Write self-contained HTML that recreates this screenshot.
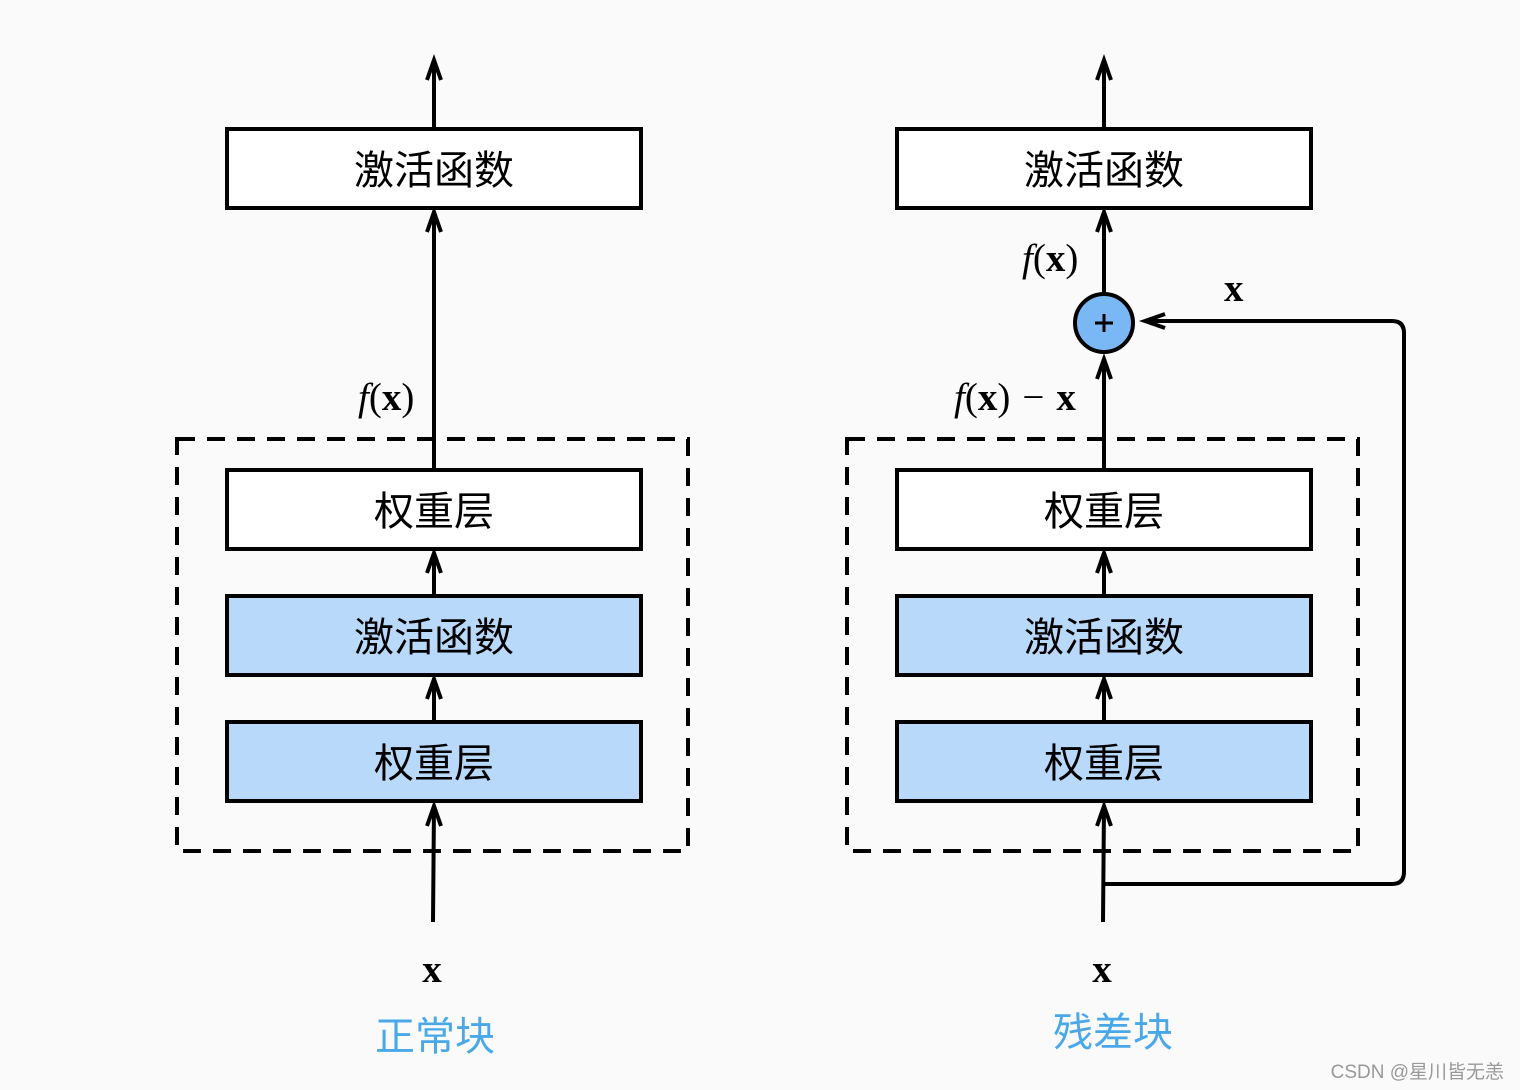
<!DOCTYPE html>
<html><head><meta charset="utf-8"><style>
html,body{margin:0;padding:0;background:#fafafa;}
svg{display:block}
.cjk{font-family:"Liberation Sans","Noto Sans CJK SC",sans-serif;font-size:40px;}
.m{font-family:"Liberation Serif",serif;font-size:39px;}
</style></head><body>
<svg width="1520" height="1090" viewBox="0 0 1520 1090" xmlns="http://www.w3.org/2000/svg">
<rect width="1520" height="1090" fill="#fafafa"/>
<defs>
<g id="blk">
  <rect x="177" y="439" width="511" height="412" fill="none" stroke="#000" stroke-width="4" stroke-dasharray="18,12"/>
  <rect x="227" y="129" width="414" height="79" fill="#fff" stroke="#000" stroke-width="4"/>
  <rect x="227" y="470" width="414" height="79" fill="#fff" stroke="#000" stroke-width="4"/>
  <rect x="227" y="596" width="414" height="79" fill="#b9d9fb" stroke="#000" stroke-width="4"/>
  <rect x="227" y="722" width="414" height="79" fill="#b9d9fb" stroke="#000" stroke-width="4"/>
  <text class="cjk" x="434" y="184" text-anchor="middle">激活函数</text>
  <text class="cjk" x="434" y="525" text-anchor="middle">权重层</text>
  <text class="cjk" x="434" y="651" text-anchor="middle">激活函数</text>
  <text class="cjk" x="434" y="777" text-anchor="middle">权重层</text>
  <g stroke="#000" stroke-width="4" fill="none">
    <line x1="434" y1="127" x2="434" y2="60"/><polyline points="427,80 434,60 441,80"/>
    <line x1="434" y1="596" x2="434" y2="553"/><polyline points="427,573 434,553 441,573"/>
    <line x1="434" y1="722" x2="434" y2="679"/><polyline points="427,699 434,679 441,699"/>
    <line x1="433" y1="922" x2="434" y2="806"/><polyline points="427,826 434,806 441,826"/>
  </g>
  <text class="m" x="432" y="982" text-anchor="middle" font-weight="bold">x</text>
</g>
</defs>
<use href="#blk"/>
<g stroke="#000" stroke-width="4" fill="none">
  <line x1="434" y1="470" x2="434" y2="212"/><polyline points="427,232 434,212 441,232"/>
</g>
<text class="m" x="358" y="410"><tspan font-style="italic">f</tspan>(<tspan font-weight="bold">x</tspan>)</text>
<text x="435" y="1050" text-anchor="middle" class="cjk" fill="#4aa8e8" font-size="37">正常块</text>

<use href="#blk" transform="translate(670,0)"/>
<g stroke="#000" stroke-width="4" fill="none">
  <line x1="1104" y1="470" x2="1104" y2="359"/><polyline points="1097,379 1104,359 1111,379"/>
  <line x1="1104" y1="293" x2="1104" y2="212"/><polyline points="1097,232 1104,212 1111,232"/>
  <path d="M1104,884 H1392 Q1404,884 1404,872 V333 Q1404,321 1392,321 H1145"/>
  <polyline points="1165,314 1145,321 1165,328"/>
</g>
<circle cx="1104" cy="323" r="29" fill="#7ab8f5" stroke="#000" stroke-width="4"/>
<g stroke="#000" stroke-width="3"><line x1="1095" y1="323" x2="1113" y2="323"/><line x1="1104" y1="314" x2="1104" y2="332"/></g>
<text class="m" x="1022" y="271"><tspan font-style="italic">f</tspan>(<tspan font-weight="bold">x</tspan>)</text>
<text class="m" x="1224" y="301" font-weight="bold">x</text>
<text class="m" x="954" y="410"><tspan font-style="italic">f</tspan>(<tspan font-weight="bold">x</tspan>)<tspan dx="12">−</tspan><tspan dx="12" font-weight="bold">x</tspan></text>
<text x="1113" y="1046" text-anchor="middle" class="cjk" fill="#4aa8e8" font-size="37">残差块</text>
<text x="1504" y="1078" text-anchor="end" font-family="Liberation Sans,'Noto Sans CJK SC',sans-serif" font-size="19" fill="#999">CSDN @星川皆无恙</text>
</svg>
</body></html>
